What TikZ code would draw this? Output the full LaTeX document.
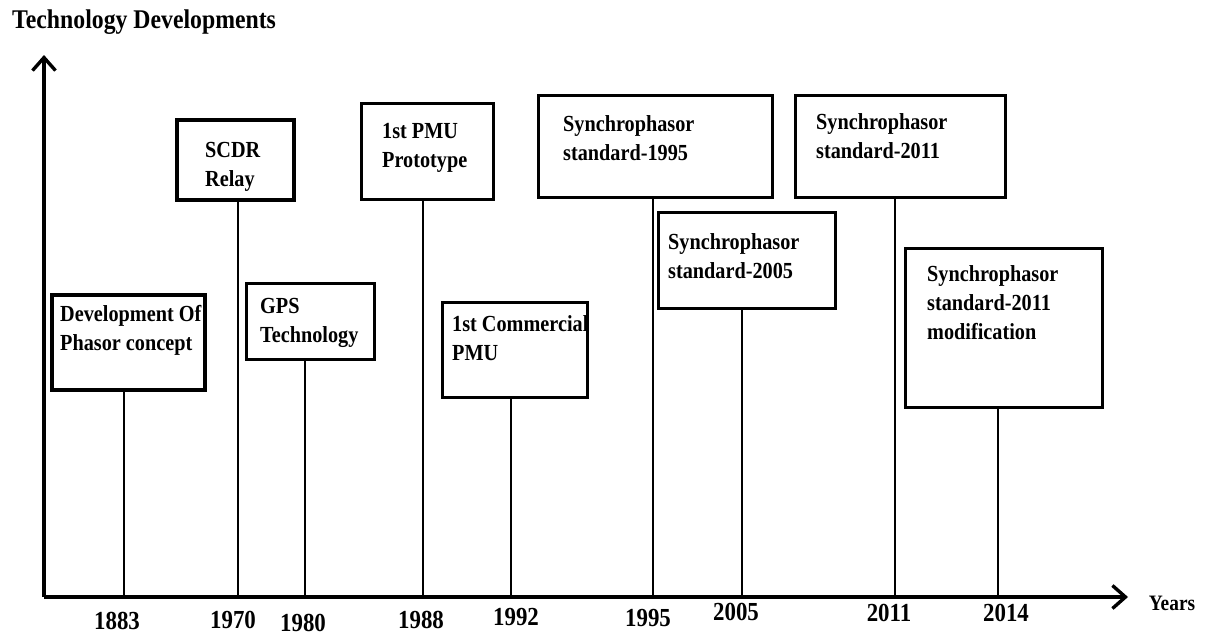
\documentclass[tikz,border=0pt]{standalone}
\usepackage{fontspec}
\setmainfont{Liberation Serif}[FakeStretch=0.88]
\usetikzlibrary{arrows.meta}

\begin{document}
\begin{tikzpicture}[x=1pt,y=-1pt,
  axis/.style={line width=3.4pt, line cap=butt},
  stem/.style={line width=2.5pt},
  evbox/.style={draw, line width=3pt, rectangle, inner sep=0pt},
  evtext/.style={anchor=north west, inner sep=0pt, align=left,
                 font=\bfseries\fontsize{23}{29}\selectfont},
  yearlbl/.style={inner sep=0pt, font=\bfseries\fontsize{26}{30}\selectfont},
  barb/.style={-{Straight Barb[length=13pt,width=23pt]}}
]
  % canvas
  \fill[white] (0,0) rectangle (1206,635);
  \useasboundingbox (0,0) rectangle (1206,635);

  % title and axes
  \node[anchor=base west, inner sep=0pt,
        font=\bfseries\fontsize{27}{32}\selectfont] (title) at (12,28) {Technology Developments};
  \coordinate (O) at (44,597);
  \coordinate (ytop) at (44,55);
  \coordinate (xend) at (1128,597);
  \draw[axis, barb] (O) -- (ytop);
  \draw[axis, barb] (O) -- (xend);
  \node[inner sep=0pt, font=\bfseries\fontsize{22}{26}\selectfont] (years) at (1172,603) {Years};

  % points on the time axis
  \coordinate (t1883) at (124,597);
  \coordinate (t1970) at (238,597);
  \coordinate (t1980) at (305,597);
  \coordinate (t1988) at (423,597);
  \coordinate (t1992) at (511,597);
  \coordinate (t1995) at (653,597);
  \coordinate (t2005) at (742,597);
  \coordinate (t2011) at (895,597);
  \coordinate (t2014) at (998,597);

  % event boxes
  \node[evbox, line width=4.5pt, minimum width=153, minimum height=95] (b1) at (128.5,342.5) {};
  \node[evbox, line width=3.5pt, minimum width=117, minimum height=80] (b2) at (235.5,160) {};
  \node[evbox, minimum width=128, minimum height=76] (b3) at (310,321) {};
  \node[evbox, minimum width=132, minimum height=96] (b4) at (427,151) {};
  \node[evbox, minimum width=145, minimum height=95] (b5) at (514.5,349.5) {};
  \node[evbox, minimum width=234, minimum height=102] (b6) at (655,146) {};
  \node[evbox, minimum width=177, minimum height=96] (b7) at (746.5,260) {};
  \node[evbox, minimum width=210, minimum height=102] (b8) at (900,146) {};
  \node[evbox, minimum width=197, minimum height=159] (b9) at (1003.5,327.5) {};

  % box texts
  \node[evtext] (e1) at (60,305)  {Development Of\\Phasor concept};
  \node[evtext] (e2) at (205,142) {SCDR\\Relay};
  \node[evtext] (e3) at (260,298) {GPS\\Technology};
  \node[evtext] (e4) at (382,123) {1st PMU\\Prototype};
  \node[evtext] (e5) at (452,315) {1st Commercial\\PMU};
  \node[evtext] (e6) at (563,115) {Synchrophasor\\standard-1995};
  \node[evtext] (e7) at (668,233) {Synchrophasor\\standard-2005};
  \node[evtext] (e8) at (816,113) {Synchrophasor\\standard-2011};
  \node[evtext] (e9) at (927,265) {Synchrophasor\\standard-2011\\modification};

  % stems from boxes down to the axis
  \draw[stem] (b1.south -| t1883) -- (t1883);
  \draw[stem] (b2.south -| t1970) -- (t1970);
  \draw[stem] (b3.south -| t1980) -- (t1980);
  \draw[stem] (b4.south -| t1988) -- (t1988);
  \draw[stem] (b5.south -| t1992) -- (t1992);
  \draw[stem] (b6.south -| t1995) -- (t1995);
  \draw[stem] (b7.south -| t2005) -- (t2005);
  \draw[stem] (b8.south -| t2011) -- (t2011);
  \draw[stem] (b9.south -| t2014) -- (t2014);

  % year labels
  \node[yearlbl] (y1883) at (117,621) {1883};
  \node[yearlbl] (y1970) at (233,620) {1970};
  \node[yearlbl] (y1980) at (303,623) {1980};
  \node[yearlbl] (y1988) at (421,620) {1988};
  \node[yearlbl] (y1992) at (516,617) {1992};
  \node[yearlbl] (y1995) at (648,618) {1995};
  \node[yearlbl] (y2005) at (736,612) {2005};
  \node[yearlbl] (y2011) at (889,613) {2011};
  \node[yearlbl] (y2014) at (1006,613) {2014};
\end{tikzpicture}
\end{document}
